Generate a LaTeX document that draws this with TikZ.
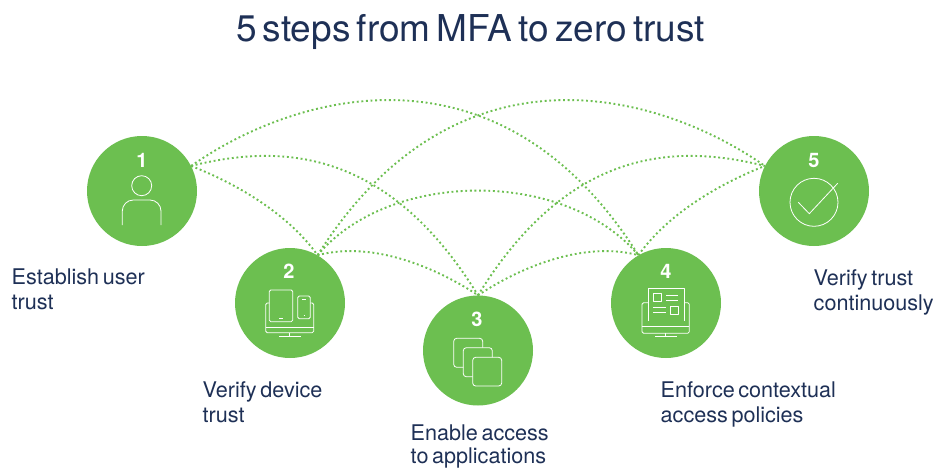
\documentclass[tikz,border=0pt]{standalone}
\usepackage{fontspec}
\setmainfont[WordSpace=0.6]{TeX Gyre Heros}
\definecolor{stepgreen}{HTML}{6CBF50}
\definecolor{inkblue}{HTML}{1E3056}
\tikzset{
 badge/.style={circle,fill=stepgreen,minimum size=110pt,inner sep=0pt,draw=none},
 num/.style={text=white,font=\fontsize{20}{20}\selectfont\bfseries,inner sep=0pt,anchor=base},
 lbl/.style={text=inkblue,font=\fontsize{21.6}{25}\selectfont,align=left,anchor=north west,inner sep=0pt},
 lbltight/.style={lbl,font=\fontsize{21.6}{22.5}\selectfont},
 link/.style={draw=stepgreen,line width=1.9pt,dash pattern=on 1.9pt off 2.7pt},
 icon/.style={draw=white,line width=0.8pt,line join=round},
}
\begin{document}
\begin{tikzpicture}[x=1pt,y=-1pt]
\useasboundingbox (0,0) rectangle (935,469);
\node[text=inkblue,font=\fontsize{37}{37}\selectfont,anchor=base,inner sep=0pt] (title) at (470.5,41) {5 steps from MFA to zero trust};
\node[badge] (s1) at (142,191) {};
\node[badge] (s2) at (290,303) {};
\node[badge] (s3) at (478,350.5) {};
\node[badge] (s4) at (666,303) {};
\node[badge] (s5) at (814,191) {};
\coordinate (a1) at (s1.27);
\coordinate (a2) at (s2.60);
\coordinate (a3) at (s3.90);
\coordinate (a4) at (s4.120);
\coordinate (a5) at (s5.153);
% connectors
\draw[link] (a1) .. controls (232,182) and (286,211) .. (a2);
\draw[link] (a1) .. controls (282,143) and (388,149) .. (a3);
\draw[link] (a1) .. controls (292,95) and (498,32) .. (a4);
\draw[link] (a2) .. controls (375,240) and (440,270) .. (a3);
\draw[link] (a2) .. controls (390,169) and (566,169) .. (a4);
\draw[link] (a2) .. controls (458,32) and (664,95) .. (a5);
\draw[link] (a3) .. controls (516,270) and (581,240) .. (a4);
\draw[link] (a3) .. controls (568,149) and (674,143) .. (a5);
\draw[link] (a4) .. controls (670,211) and (724,182) .. (a5);
% numbers
\node[num] (n1) at (142,167) {1};
\node[num] (n2) at (289,278) {2};
\node[num] (n3) at (477,326) {3};
\node[num] (n4) at (666,278) {4};
\node[num] (n5) at (814,167) {5};
% icon 1
\draw[icon] (141.7,185.7) circle (10);
\draw[icon,rounded corners=11pt] (122.3,225) -- (122.3,200) -- (161,200) -- (161,225);
% icon 2
\draw[icon,rounded corners=1.5pt] (269.3,290) rectangle (292.7,321.7);
\draw[icon,rounded corners=1.5pt] (297.7,296) rectangle (310.3,318.7);
\draw[icon,rounded corners=1.5pt] (269.3,303) -- (265.7,303) -- (265.7,332.7) -- (313.7,332.7) -- (313.7,303) -- (310.3,303);
\draw[icon] (265.7,327.3) -- (313.7,327.3);
\draw[icon] (289.3,332.7) -- (289.3,336) (279,336) -- (300.7,336);
\draw[icon] (279,318.3) -- (282.7,318.3) (302.3,299) -- (305.7,299) (303.5,315) -- (304.5,315);
% icon 3
\draw[icon,rounded corners=3pt] (472.7,357.3) rectangle (501.7,386);
\draw[icon,rounded corners=3pt] (492.3,357.3) -- (492.3,347.7) -- (463.3,347.7) -- (463.3,376.7) -- (472.7,376.7);
\draw[icon,rounded corners=3pt] (482.7,347.7) -- (482.7,338.3) -- (453.7,338.3) -- (453.7,367.3) -- (463.3,367.3);
% icon 4
\draw[icon] (648.3,321) -- (648.3,288.3) -- (684,288.3) -- (684,321);
\draw[icon,rounded corners=1.5pt] (648.3,302.7) -- (642,302.7) -- (642,333.3) -- (689.3,333.3) -- (689.3,302.7) -- (684,302.7);
\draw[icon] (642,326.7) -- (689.3,326.7);
\draw[icon] (665.7,333.3) -- (665.7,336.3) (655,336.3) -- (676.7,336.3);
\draw[icon] (653.3,293.3) rectangle (661.3,301.3);
\draw[icon] (670.7,306) rectangle (678.7,314.3);
\draw[icon] (666,295) -- (678.3,295) (666,300) -- (678.3,300) (653.3,307.7) -- (666,307.7) (653.3,312.7) -- (666,312.7);
% icon 5
\draw[icon] (814,202.3) circle (24);
\draw[icon] (798.3,202.3) -- (809.3,213.7) -- (837.7,183.3);
% labels
\node[lbl] (l1) at (11.5,269) {Establish user\\trust};
\node[lbl] (l2) at (202.5,381) {Verify device\\trust};
\node[lbltight] (l3) at (410.5,425) {Enable access\\to applications};
\node[lbl] (l4) at (660.5,381) {Enforce contextual\\access policies};
\node[lbl] (l5) at (813.5,269) {Verify trust\\continuously};
\end{tikzpicture}
\end{document}
